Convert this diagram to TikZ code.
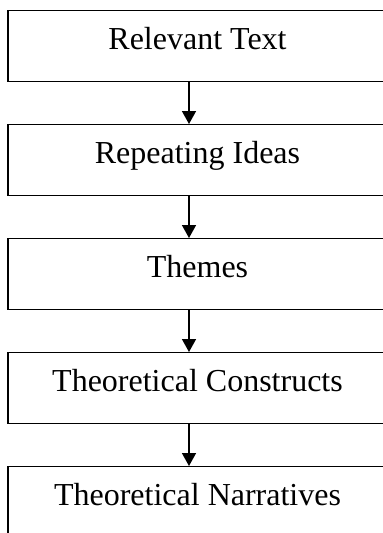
\documentclass[tikz,border=0pt]{standalone}
\usepackage{fontspec}
\setmainfont{Liberation Serif}
\usetikzlibrary{arrows.meta}
\begin{document}
\begin{tikzpicture}[x=1pt,y=1pt,
  stage/.style={draw=black, line width=1.3pt, rectangle, inner sep=0pt,
    minimum width=379pt, text height=39pt, text depth=32pt,
    font=\fontsize{32}{38}\selectfont, anchor=north},
  arr/.style={line width=1.5pt, -{Triangle[width=14pt,length=13pt]}}]
\useasboundingbox (0,0) rectangle (383,-533);
\node[stage] (a) at (197.5,-10) {Relevant Text};
\node[stage] (b) at (197.5,-124) {Repeating Ideas};
\node[stage] (c) at (197.5,-238) {Themes};
\node[stage] (d) at (197.5,-352) {Theoretical Constructs};
\node[stage] (e) at (197.5,-466) {Theoretical Narratives};
\draw[arr] ([xshift=-8.5pt]a.south) -- ([xshift=-8.5pt]b.north);
\draw[arr] ([xshift=-8.5pt]b.south) -- ([xshift=-8.5pt]c.north);
\draw[arr] ([xshift=-8.5pt]c.south) -- ([xshift=-8.5pt]d.north);
\draw[arr] ([xshift=-8.5pt]d.south) -- ([xshift=-8.5pt]e.north);
\end{tikzpicture}
\end{document}
